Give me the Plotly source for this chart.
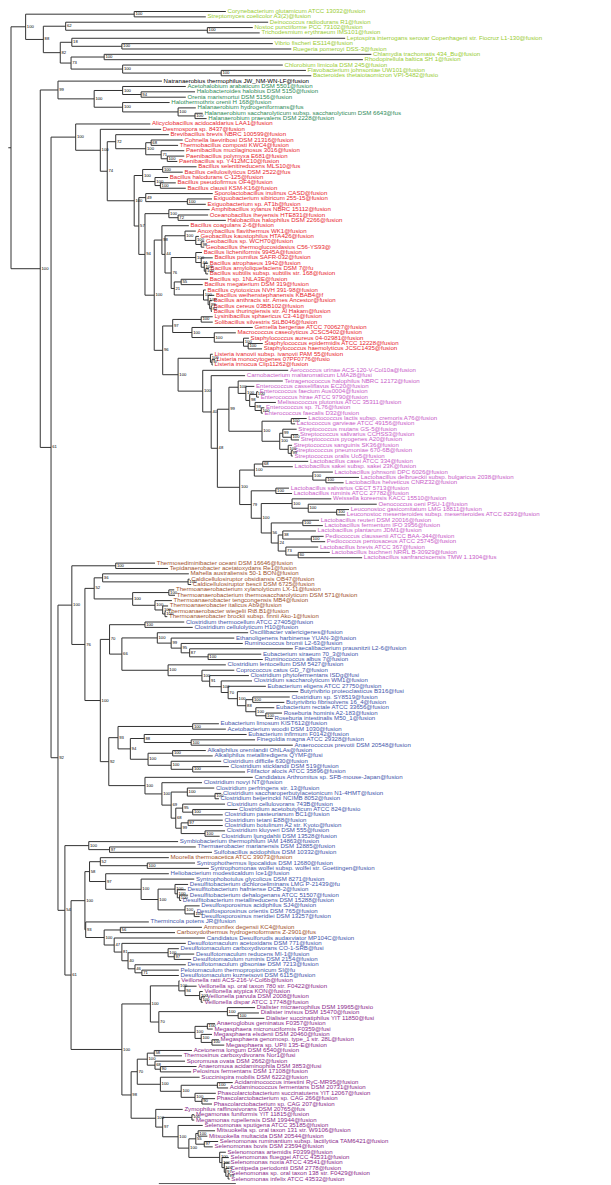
import plotly.graph_objects as go

# Tree data. Leaves: 'name':distance_from_root ; clades: (...)support:distance_from_root
# {NAME} inserts another clade string. Distances are substitutions/site from the root.
BACKBONE = "({OUTGROUP},({HALANAEROBIALES},({BACILLALES},({THERMOANAEROBACTERALES},{LOWER_FIRMICUTES})92:0.061)61:0.052)100:0.038):0.0"

OUTGROUP = """
(
 ('Corynebacterium glutamicum ATCC 13032@fusion':0.279,
  'Streptomyces coelicolor A3(2)@fusion':0.253)100:0.160,
 (
  ('Deinococcus radiodurans R1@fusion':0.334,
   ('Nostoc punctiforme PCC 73102@fusion':0.314,
    'Trichodesmium erythraeum IMS101@fusion':0.323)100:0.255)62:0.071,
  (
   ('Leptospira interrogans serovar Copenhageni str. Fiocruz L1-130@fusion':0.434,
    ('Vibrio fischeri ES114@fusion':0.340,
     'Ruegeria pomeroyi DSS-3@fusion':0.364)100:0.144)18:0.079,
   (
    ('Chlamydia trachomatis 434_Bu@fusion':0.468,
     'Rhodopirellula baltica SH 1@fusion':0.457)100:0.121,
    ('Chlorobium limicola DSM 245@fusion':0.353,
     ('Flavobacterium johnsoniae UW101@fusion':0.383,
      'Bacteroides thetaiotaomicron VPI-5482@fusio':0.390)100:0.273)100:0.145
   )73:0.078
  )82:0.064
 )88:0.042
)100:0.019
"""

HALANAEROBIALES = """
('Natranaerobius thermophilus JW_NM-WN-LF@fusion':0.196,
 (
  ('Acetohalobium arabaticum DSM 5501@fusion':0.227,
   ('Halobacteroides halobius DSM 5150@fusion':0.239,
    'Orenia marismortui DSM 5156@fusion':0.227)94:0.169)100:0.145,
  ('Halothermothrix orenii H 168@fusion':0.206,
   ('Halanaerobium hydrogeniformans@fus':0.240,
    ('Halanaerobium saccharolyticum subsp. saccharolyticum DSM 6643@fus':0.249,
     'Halanaerobium praevalens DSM 2228@fusion':0.254)100:0.239)100:0.217)100:0.145
 )100:0.108
)99:0.061
"""

BACILLALES = """
('Alicyclobacillus acidocaldarius LAA1@fusion':0.181,
 ('Desmospora sp. 8437@fusion':0.195,
  (
   ('Brevibacillus brevis NBRC 100599@fusion':0.205,
    (
     ('Cohnella laeviribosi DSM 21316@fusion':0.223,
      'Thermobacillus composti KWC4@fusion':0.217)68:0.182,
     ('Paenibacillus mucilaginosus 3016@fusion':0.225,
      ('Paenibacillus polymyxa E681@fusion':0.225,
       'Paenibacillus sp. Y412MC10@fusion':0.216)100:0.203)71:0.195
    )100:0.175
   )72:0.136,
   (
    (
     ('Bacillus selenitireducens MLS10@fus':0.241,
      'Bacillus cellulosilyticus DSM 2522@fus':0.223)100:0.197,
     ('Bacillus halodurans C-125@fusion':0.204,
      ('Bacillus pseudofirmus OF4@fusion':0.214,
       'Bacillus clausii KSM-K16@fusion':0.227)100:0.194)100:0.187
    )100:0.171,
    (
     ('Sporolactobacillus inulinus CASD@fusion':0.262,
      ('Exiguobacterium sibiricum 255-15@fusion':0.261,
       'Exiguobacterium sp. AT1b@fusion':0.253)100:0.229)49:0.175,
     (
      ('Amphibacillus xylanus NBRC 15112@fusion':0.258,
       ('Oceanobacillus iheyensis HTE831@fusion':0.256,
        'Halobacillus halophilus DSM 2266@fusion':0.279)72:0.217)100:0.205,
      (
       ('Bacillus coagulans 2-6@fusion':0.231,
        (
         ('Anoxybacillus flavithermus WK1@fusion':0.240,
          ('Geobacillus kaustophilus HTA426@fusion':0.244,
           ('Geobacillus sp. WCH70@fusion':0.251,
            'Geobacillus thermoglucosidasius C56-YS93@':0.251)98:0.247)100:0.240)100:0.226,
         (
          ('Bacillus licheniformis 9945A@fusion':0.248,
           ('Bacillus pumilus SAFR-032@fusion':0.262,
            ('Bacillus atrophaeus 1942@fusion':0.256,
             ('Bacillus amyloliquefaciens DSM 7@fu':0.257,
              'Bacillus subtilis subsp. subtilis str. 168@fusion':0.256)100:0.253)100:0.251)44:0.247)100:0.240,
          (
           ('Bacillus sp. 1NLA3E@fusion':0.256,
            'Bacillus megaterium DSM 319@fusion':0.249)55:0.221,
           ('Bacillus cytotoxicus NVH 391-98@fusion':0.253,
            ('Bacillus weihenstephanensis KBAB4@f':0.264,
             ('Bacillus anthracis str. Ames Ancestor@fusion':0.261,
              ('Bacillus cereus 03BB102@fusion':0.261,
               'Bacillus thuringiensis str. Al Hakam@fusion':0.261)82:0.260)99:0.258)100:0.256)100:0.250
          )21:0.212
         )76:0.208
        )44:0.200
       )98:0.196,
       (
        (
         ('Lysinibacillus sphaericus C3-41@fusion':0.262,
          'Solibacillus silvestris StLB046@fusion':0.262)100:0.247,
         ('Gemella bergeriae ATCC 700627@fusion':0.314,
          ('Macrococcus caseolyticus JCSC5402@fusion':0.292,
           ('Staphylococcus aureus 04-02981@fusion':0.309,
            ('Staphylococcus epidermidis ATCC 12228@fusion':0.327,
             'Staphylococcus haemolyticus JCSC1435@fusion':0.326)100:0.308)100:0.302)100:0.264)100:0.235
        )97:0.210,
        (
         ('Listeria ivanovii subsp. ivanovii PAM 55@fusion':0.262,
          ('Listeria monocytogenes 07PF0776@fusio':0.265,
           'Listeria innocua Clip11262@fusion':0.262)97:0.261)100:0.259,
         {LACTOBACILLALES}
        )100:0.217
       )96:0.197
      )100:0.186
     )94:0.174
    )57:0.166
   )100:0.160
  )74:0.125
 )100:0.116
)100:0.084
"""

LACTOBACILLALES = """
('Aerococcus urinae ACS-120-V-Col10a@fusion':0.360,
 ('Carnobacterium maltaromaticum LMA28@fusi':0.304,
  (
   (
    ('Tetragenococcus halophilus NBRC 12172@fusion':0.353,
     ('Enterococcus casseliflavus EC20@fusion':0.316,
      (
       ('Enterococcus faecium Aus0004@fusion':0.321,
        'Enterococcus hirae ATCC 9790@fusion':0.322)100:0.319,
       ('Melissococcus plutonius ATCC 35311@fusion':0.344,
        ('Enterococcus sp. 7L76@fusion':0.329,
         'Enterococcus faecalis D32@fusion':0.327)100:0.325)98:0.317
      )98:0.310
     )100:0.305
    )100:0.295,
    (
     ('Lactococcus lactis subsp. cremoris A76@fusion':0.384,
      'Lactococcus garvieae ATCC 49156@fusion':0.369)100:0.364,
     (
      ('Streptococcus mutans GS-5@fusion':0.371,
       ('Streptococcus salivarius CCHSS3@fusion':0.373,
        'Streptococcus pyogenes A20@fusion':0.374)100:0.364)99:0.353,
      ('Streptococcus sanguinis SK36@fusion':0.365,
       ('Streptococcus pneumoniae 670-6B@fusion':0.366,
        'Streptococcus oralis Uo5@fusion':0.366)99:0.364)100:0.360
     )100:0.349
    )100:0.326
   )99:0.283,
   (
    (
     ('Lactobacillus casei ATCC 334@fusion':0.386,
      'Lactobacillus sakei subsp. sakei 23K@fusion':0.366)68:0.327,
     ('Lactobacillus johnsonii DPC 6026@fusion':0.418,
      ('Lactobacillus delbrueckii subsp. bulgaricus 2038@fusion':0.452,
       'Lactobacillus helveticus CNRZ32@fusion':0.432)100:0.409)100:0.392
    )100:0.316,
    (
     ('Lactobacillus salivarius CECT 5713@fusion':0.361,
      'Lactobacillus ruminis ATCC 27782@fusion':0.365)100:0.344,
     (
      ('Weissella koreensis KACC 15510@fusion':0.416,
       ('Oenococcus oeni PSU-1@fusion':0.475,
        ('Leuconostoc gasicomitatum LMG 18811@fusion':0.439,
         'Leuconostoc mesenteroides subsp. mesenteroides ATCC 8293@fusion':0.434)100:0.423)100:0.386)100:0.365,
      (
       ('Lactobacillus reuteri DSM 20016@fusion':0.400,
        'Lactobacillus fermentum IFO 3956@fusion':0.405)100:0.379,
       (
        ('Lactobacillus plantarum JDM1@fusion':0.396,
         ('Pediococcus claussenii ATCC BAA-344@fusion':0.406,
          'Pediococcus pentosaceus ATCC 25745@fusion':0.408)100:0.390)38:0.353,
        ('Lactobacillus brevis ATCC 367@fusion':0.399,
         ('Lactobacillus buchneri NRRL B-30929@fusion':0.414,
          'Lactobacillus sanfranciscensis TMW 1.1304@fus':0.456)60:0.373)73:0.357
       )24:0.347
      )56:0.338
     )100:0.325
    )79:0.312
   )100:0.297
  )48:0.268
 )40:0.260
)100:0.249
"""

THERMOANAEROBACTERALES = """
(
 ('Thermosediminibacter oceani DSM 16646@fusion':0.187,
  'Tepidanaerobacter acetatoxydans Re1@fusion':0.204)100:0.136,
 (
  (
   ('Mahella australiensis 50-1 BON@fusion':0.231,
    ('Caldicellulosiruptor obsidiansis OB47@fusion':0.232,
     'Caldicellulosiruptor bescii DSM 6725@fusion':0.234)100:0.230)36:0.119,
   (
    ('Thermoanaerobacterium xylanolyticum LX-11@fusion':0.212,
     'Thermoanaerobacterium thermosaccharolyticum DSM 571@fusion':0.213)100:0.205,
    ('Thermoanaerobacter tengcongensis MB4@fusion':0.209,
     ('Thermoanaerobacter italicus Ab9@fusion':0.204,
      ('Thermoanaerobacter wiegelii Rt8.B1@fusion':0.201,
       'Thermoanaerobacter brockii subsp. finnii Ako-1@fusion':0.203)100:0.200)100:0.197)100:0.187
   )100:0.158
  )52:0.108,
  {CLOSTRIDIA}
 )76:0.096
)100:0.079
"""

CLOSTRIDIA = """
(
 (
  ('Clostridium thermocellum ATCC 27405@fusion':0.225,
   'Clostridium cellulolyticum H10@fusion':0.236)100:0.174,
  (
   ('Oscillibacter valericigenes@fusion':0.308,
    ('Ethanoligenens harbinense YUAN-3@fusion':0.290,
     ('Ruminococcus bromii L2-63@fusion':0.301,
      ('Faecalibacterium prausnitzii L2-6@fusion':0.366,
       ('Eubacterium siraeum 70_3@fusion':0.325,
        'Ruminococcus albus 7@fusion':0.327)100:0.256)87:0.232)95:0.221)99:0.208)100:0.190,
   ('Clostridium lentocellum DSM 5427@fusion':0.279,
    ('Coprococcus catus GD_7@fusion':0.290,
     ('Clostridium phytofermentans ISDg@fusi':0.309,
      ('Clostridium saccharolyticum WM1@fusion':0.313,
       ('Eubacterium eligens ATCC 27750@fusion':0.331,
        ('Butyrivibrio proteoclasticus B316@fusi':0.373,
         (
          ('Clostridium sp. SY8519@fusion':0.362,
           'Butyrivibrio fibrisolvens 16_4@fusion':0.355)100:0.314,
          ('Eubacterium rectale ATCC 33656@fusion':0.342,
           ('Roseburia hominis A2-183@fusion':0.352,
            'Roseburia intestinalis M50_1@fusion':0.340)100:0.331)100:0.318
         )88:0.305
        )100:0.294
       )70:0.282
      )100:0.273
     )91:0.258
    )100:0.248
   )100:0.204
  )66:0.144
 )70:0.128,
 (
  (
   ('Eubacterium limosum KIST612@fusion':0.270,
    'Acetobacterium woodii DSM 1030@fusion':0.279)100:0.236,
   (
    ('Eubacterium infirmum F0142@fusion':0.306,
     ('Finegoldia magna ATCC 29328@fusion':0.317,
      'Anaerococcus prevotii DSM 20548@fusion':0.366)100:0.234)88:0.173,
    (
     ('Alkaliphilus oremlandii OhILAs@fusion':0.253,
      'Alkaliphilus metalliredigens QYMF@fusi':0.262)100:0.210,
     ('Clostridium difficile 630@fusion':0.273,
      ('Clostridium sticklandii DSM 519@fusion':0.283,
       'Filifactor alocis ATCC 35896@fusion':0.304)100:0.236)100:0.208
    )100:0.178
   )94:0.155
  )93:0.139,
  ('Candidatus Arthromitus sp. SFB-mouse-Japan@fusion':0.314,
   ('Clostridium novyi NT@fusion':0.248,
    (
     ('Clostridium perfringens str. 13@fusion':0.264,
      ('Clostridium saccharoperbutylacetonicum N1-4HMT@fusion':0.273,
       'Clostridium beijerinckii NCIMB 8052@fusion':0.270)100:0.265)100:0.229,
     (
      ('Clostridium cellulovorans 743B@fusion':0.278,
       ('Clostridium acetobutylicum ATCC 824@fusio':0.294,
        'Clostridium pasteurianum BC1@fusion':0.275)100:0.236)95:0.223,
      (
       ('Clostridium tetani E88@fusion':0.275,
        'Clostridium botulinum A2 str. Kyoto@fusion':0.275)97:0.230,
       ('Clostridium kluyveri DSM 555@fusion':0.278,
        'Clostridium ljungdahlii DSM 13528@fusion':0.271)100:0.252
      )99:0.221
     )68:0.214
    )69:0.208
   )100:0.196
  )100:0.174
 )92:0.127
)100:0.116
"""

LOWER_FIRMICUTES = """
(
 ('Symbiobacterium thermophilum IAM 14863@fusion':0.217,
  ('Thermaerobacter marianensis DSM 12885@fusion':0.240,
   'Sulfobacillus acidophilus DSM 10332@fusion':0.261)97:0.128)100:0.101,
 (
  (
   (
    ('Moorella thermoacetica ATCC 39073@fusion':0.205,
     ('Syntrophothermus lipocalidus DSM 12680@fusion':0.239,
      'Syntrophomonas wolfei subsp. wolfei str. Goettingen@fusion':0.257)100:0.177)52:0.116,
    ('Heliobacterium modesticaldum Ice1@fusion':0.205,
     ('Syntrophobotulus glycolicus DSM 8271@fusion':0.238,
      (
       ('Desulfitobacterium dichloroeliminans LMG P-21439@fu':0.230,
        ('Desulfitobacterium hafniense DCB-2@fusion':0.227,
         ('Desulfitobacterium dehalogenans ATCC 51507@fusion':0.230,
          'Desulfitobacterium metallireducens DSM 15288@fusion':0.221)100:0.219)100:0.216)100:0.213,
       ('Desulfosporosinus acidiphilus SJ4@fusion':0.245,
        ('Desulfosporosinus orientis DSM 765@fusion':0.239,
         'Desulfosporosinus meridiei DSM 13257@fusion':0.245)100:0.238)100:0.226
      )100:0.191
     )100:0.169
    )97:0.123
   )58:0.102,
   ('Thermincola potens JR@fusion':0.179,
    (
     ('Ammonifex degensii KC4@fusion':0.248,
      'Carboxydothermus hydrogenoformans Z-2901@fus':0.213)56:0.142,
     ('Candidatus Desulforudis audaxviator MP104C@fusion':0.252,
      ('Desulfotomaculum acetoxidans DSM 771@fusion':0.227,
       (
        ('Desulfotomaculum carboxydivorans CO-1-SRB@fusi':0.218,
         ('Desulfotomaculum reducens MI-1@fusion':0.238,
          'Desulfotomaculum ruminis DSM 2154@fusion':0.234)97:0.212)100:0.204,
        ('Desulfotomaculum gibsoniae DSM 7213@fusion':0.227,
         ('Pelotomaculum thermopropionicum SI@fu':0.218,
          'Desulfotomaculum kuznetsovii DSM 6115@fusion':0.218)71:0.170)46:0.161
       )40:0.152
      )81:0.144
     )47:0.134
    )100:0.121
   )93:0.097
  )100:0.096,
  {NEGATIVICUTES}
 )61:0.078
)54:0.070
"""

NEGATIVICUTES = """
(
 (
  ('Veillonella ratti ACS-216-V-Col6b@fusion':0.219,
   ('Veillonella sp. oral taxon 780 str. F0422@fusion':0.241,
    ('Veillonella atypica KON@fusion':0.249,
     ('Veillonella parvula DSM 2008@fusion':0.252,
      'Veillonella dispar ATCC 17748@fusion':0.249)100:0.247)100:0.245)94:0.226)100:0.218,
  (
   ('Dialister micraerophilus DSM 19965@fusio':0.317,
    ('Dialister invisus DSM 15470@fusion':0.322,
     'Dialister succinatiphilus YIT 11850@fusi':0.329)100:0.295)100:0.281,
   (
    ('Anaeroglobus geminatus F0357@fusion':0.265,
     'Megasphaera micronuciformis F0359@fusi':0.262)100:0.255,
    ('Megasphaera elsdenii DSM 20460@fusion':0.261,
     ('Megasphaera genomosp. type_1 str. 28L@fusion':0.270,
      'Megasphaera sp. UPII 135-E@fusion':0.277)100:0.261)100:0.247
   )100:0.239
  )70:0.192
 )100:0.181,
 (
  (
   (
    ('Acetonema longum DSM 6540@fusion':0.235,
     'Thermosinus carboxydivorans Nor1@fusi':0.222)58:0.186,
    ('Sporomusa ovata DSM 2662@fusion':0.226,
     ('Anaeromusa acidaminophila DSM 3853@fusi':0.241,
      'Pelosinus fermentans DSM 17108@fusion':0.234)90:0.194)68:0.187
   )100:0.177,
   ('Succinispira mobilis DSM 6222@fusion':0.245,
    (
     ('Acidaminococcus intestini RyC-MR95@fusion':0.288,
      'Acidaminococcus fermentans DSM 20731@fusion':0.282)100:0.268,
     ('Phascolarctobacterium succinatutens YIT 12067@fusion':0.266,
      ('Phascolarctobacterium sp. CAG 266@fusion':0.265,
       'Phascolarctobacterium sp. CAG 207@fusion':0.261)90:0.248)100:0.239
    )100:0.221
   )100:0.194
  )70:0.164,
  ('Zymophilus raffinosivorans DSM 20765@fus':0.223,
   (
    ('Megamonas funiformis YIT 11815@fusion':0.238,
     'Megamonas rupellensis DSM 19944@fusion':0.238)100:0.235,
    ('Selenomonas sputigena ATCC 35185@fusion':0.249,
     (
      (
       ('Mitsuokella sp. oral taxon 131 str. W9106@fusion':0.265,
        'Mitsuokella multacida DSM 20544@fusion':0.255)100:0.243,
       ('Selenomonas ruminantium subsp. lactilytica TAM6421@fusion':0.269,
        'Selenomonas bovis DSM 23594@fusion':0.262)97:0.251
      )55:0.240,
      ('Selenomonas artemidis F0399@fusion':0.279,
       ('Selenomonas flueggei ATCC 43531@fusion':0.283,
        ('Selenomonas noxia ATCC 43541@fusion':0.283,
         ('Centipeda periodontii DSM 2778@fusion':0.283,
          ('Selenomonas sp. oral taxon 138 str. F0429@fusion':0.284,
           'Selenomonas infelix ATCC 43532@fusion':0.284)99:0.282)97:0.279)100:0.277)100:0.274)100:0.271
     )100:0.231
    )100:0.217
   )97:0.197
  )100:0.188
 )98:0.156
)100:0.144
"""

CLADES = {
    "BACKBONE": BACKBONE, "OUTGROUP": OUTGROUP, "HALANAEROBIALES": HALANAEROBIALES,
    "BACILLALES": BACILLALES, "LACTOBACILLALES": LACTOBACILLALES,
    "THERMOANAEROBACTERALES": THERMOANAEROBACTERALES, "CLOSTRIDIA": CLOSTRIDIA,
    "LOWER_FIRMICUTES": LOWER_FIRMICUTES, "NEGATIVICUTES": NEGATIVICUTES,
}

SCALE_BAR_START = 0.192
SCALE_BAR_LENGTH = 0.1
SCALE_BAR_LABEL = "0.1"

# ---------------- styling ----------------
CLADE_COLOURS = {
    "BACKBONE": "#000000",
    "OUTGROUP": "#99cc33",
    "HALANAEROBIALES": "#2e8b57",
    "BACILLALES": "#e8262e",
    "LACTOBACILLALES": "#c85cc8",
    "THERMOANAEROBACTERALES": "#a0522d",
    "CLOSTRIDIA": "#4455aa",
    "LOWER_FIRMICUTES": "#4455aa",
    "NEGATIVICUTES": "#8b2a8b",
}
BROWN = "#a0522d"
LEAF_COLOUR_OVERRIDES = {
    "Natranaerobius thermophilus JW_NM-WN-LF@fusion": "#000000",
    "Moorella thermoacetica ATCC 39073@fusion": BROWN,
    "Ammonifex degensii KC4@fusion": BROWN,
    "Carboxydothermus hydrogenoformans Z-2901@fus": BROWN,
}


def parse(s, clade):
    pos = 0

    def skip():
        nonlocal pos
        while pos < len(s) and s[pos] in " \n\t\r":
            pos += 1

    def number():
        nonlocal pos
        skip()
        j = pos
        while pos < len(s) and (s[pos].isdigit() or s[pos] in ".-"):
            pos += 1
        return s[j:pos]

    def node():
        nonlocal pos
        skip()
        c = s[pos]
        if c == "(":
            pos += 1
            kids = [node()]
            skip()
            while s[pos] == ",":
                pos += 1
                kids.append(node())
                skip()
            assert s[pos] == ")", (clade, pos, s[pos - 20:pos + 20])
            pos += 1
            sup = number()
            skip()
            assert s[pos] == ":", (clade, pos, s[pos - 20:pos + 20])
            pos += 1
            return {"kids": kids, "support": sup, "depth": float(number())}
        if c == "'":
            j = s.index("'", pos + 1)
            name = s[pos + 1:j]
            pos = j + 1
            skip()
            assert s[pos] == ":"
            pos += 1
            return {"name": name, "depth": float(number()), "clade": clade}
        if c == "{":
            j = s.index("}", pos)
            ref = s[pos + 1:j]
            pos = j + 1
            return {"ref": ref}
        raise ValueError((clade, pos, s[pos - 20:pos + 20]))

    return node()


def build(name):
    t = parse(CLADES[name], name)

    def resolve(n):
        if "ref" in n:
            return build(n["ref"])
        if "kids" in n:
            n["kids"] = [resolve(k) for k in n["kids"]]
        return n

    return resolve(t)


tree = build("BACKBONE")

leaves = []


def layout(n):
    if "kids" in n:
        for k in n["kids"]:
            layout(k)
        n["y"] = (n["kids"][0]["y"] + n["kids"][-1]["y"]) / 2.0
    else:
        n["y"] = float(len(leaves))
        leaves.append(n)


layout(tree)

lx, ly = [], []
sup_x, sup_y, sup_t = [], [], []


def draw(n):
    if "kids" not in n:
        return
    lx.extend([n["depth"], n["depth"], None])
    ly.extend([n["kids"][0]["y"], n["kids"][-1]["y"], None])
    if n["support"]:
        sup_x.append(n["depth"] + 0.0016)
        sup_y.append(n["y"])
        sup_t.append(n["support"])
    for k in n["kids"]:
        lx.extend([n["depth"], k["depth"], None])
        ly.extend([k["y"], k["y"], None])
        draw(k)


draw(tree)
lx.extend([tree["depth"] - 0.0035, tree["depth"], None])
ly.extend([tree["y"], tree["y"], None])

PX_PER_UNIT = 770.0
LEAF_PX = 5.3555
W, H = 611, 1185
x0 = -3.0 / PX_PER_UNIT
x1 = x0 + W / PX_PER_UNIT
ytop = -3.5 / LEAF_PX
ybot = ytop + H / LEAF_PX

FONT = "Liberation Sans, Arial, sans-serif"

fig = go.Figure()
fig.add_trace(go.Scatter(x=lx, y=ly, mode="lines", line=dict(color="#333333", width=1),
                         hoverinfo="skip", showlegend=False))
fig.add_trace(go.Scatter(
    x=[l["depth"] + 0.0022 for l in leaves], y=[l["y"] for l in leaves],
    text=[l["name"] for l in leaves], mode="text", textposition="middle right",
    textfont=dict(family=FONT, size=6.1,
                  color=[LEAF_COLOUR_OVERRIDES.get(l["name"], CLADE_COLOURS[l["clade"]]) for l in leaves]),
    hoverinfo="skip", showlegend=False))
fig.add_trace(go.Scatter(
    x=sup_x, y=sup_y, text=sup_t, mode="text", textposition="middle right",
    textfont=dict(family=FONT, size=4.2, color="#000000"),
    hoverinfo="skip", showlegend=False))

sb_y = len(leaves) - 0.15
fig.add_trace(go.Scatter(x=[SCALE_BAR_START, SCALE_BAR_START + SCALE_BAR_LENGTH], y=[sb_y, sb_y],
                         mode="lines", line=dict(color="#555555", width=1), hoverinfo="skip", showlegend=False))
fig.add_trace(go.Scatter(x=[SCALE_BAR_START + SCALE_BAR_LENGTH / 2], y=[sb_y + 0.55], text=[SCALE_BAR_LABEL],
                         mode="text", textposition="middle center",
                         textfont=dict(family=FONT, size=4.0, color="#333333"),
                         hoverinfo="skip", showlegend=False))

fig.update_layout(width=W, height=H, margin=dict(l=0, r=0, t=0, b=0, pad=0),
                  paper_bgcolor="white", plot_bgcolor="white", showlegend=False)
fig.update_xaxes(range=[x0, x1], visible=False, fixedrange=True)
fig.update_yaxes(range=[ybot, ytop], visible=False, fixedrange=True)
fig.write_html("out.html")
